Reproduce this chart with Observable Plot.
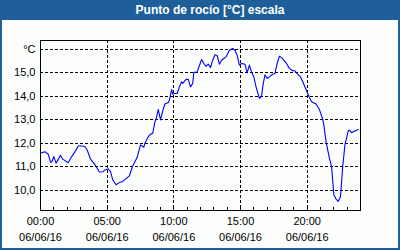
<!DOCTYPE html>
<html>
<head>
<meta charset="utf-8">
<script src="https://cdn.jsdelivr.net/npm/d3@7"></script>
<script src="https://cdn.jsdelivr.net/npm/@observablehq/plot@0.6"></script>
<style>
  html, body { margin: 0; padding: 0; background: #ffffff; }
  #wrap { position: relative; width: 400px; height: 250px; background: #fcfefc; overflow: hidden; }
  #title { position: absolute; left: 0; top: 0; width: 400px; height: 20px; background: #1f5f99;
           color: #ffffff; font: bold 12px "Liberation Sans", Arial, sans-serif; line-height: 20px; }
  #title span { position: absolute; left: 210px; transform: translateX(-50%); white-space: nowrap; }
  #chart { position: absolute; left: 0; top: 20px; }
  #border { position: absolute; left: 0; top: 0; width: 400px; height: 250px; box-sizing: border-box;
            border: 2px solid #1f5f99; pointer-events: none; }
</style>
</head>
<body>
<div id="wrap">
  <div id="title"><span>Punto de rocío [°C] escala</span></div>
  <div id="chart"></div>
  <div id="border"></div>
</div>
<script>
const times = ["00:00","00:20","00:35","00:45","00:50","01:00","01:10","01:30","01:40","02:05",
  "02:20","02:35","02:50","03:10","03:20","03:30","03:45","04:00","04:20","04:25",
  "04:40","04:50","05:05","05:15","05:25","05:40","05:55","06:10","06:25","06:40",
  "06:55","07:15","07:30","07:45","07:50","08:05","08:15","08:25","08:35","08:40",
  "08:50","09:00","09:10","09:20","09:35","09:40","09:50","09:55","10:05","10:15",
  "10:25","10:35","10:40","10:55","11:05","11:15","11:25","11:30","11:45","12:05",
  "12:15","12:25","12:35","12:45","12:55","13:05","13:15","13:25","13:35","13:45",
  "13:55","14:10","14:25","14:35","14:45","14:55","15:05","15:20","15:30","15:40",
  "15:50","16:00","16:10","16:25","16:35","16:40","16:50","17:00","17:10","17:25",
  "17:35","17:45","17:55","18:05","18:25","18:40","18:55","19:05","19:15","19:30",
  "19:40","19:55","20:10","20:20","20:40","20:55","21:10","21:15","21:25","21:40",
  "21:50","22:00","22:10","22:20","22:30","22:40","22:50","23:05","23:10","23:20",
  "23:35","23:40","23:50"];
const dewPoint = [11.57,11.64,11.53,11.19,11.19,11.43,11.15,11.49,11.32,11.17,
  11.43,11.63,11.88,11.88,11.85,11.71,11.32,11.15,10.86,10.77,
  10.78,10.86,10.91,10.79,10.44,10.23,10.32,10.37,10.49,10.61,
  11.03,11.40,11.93,11.83,12.00,12.28,12.39,12.42,12.92,13.02,
  13.44,12.99,13.38,13.67,13.74,13.84,14.29,14.09,14.12,14.12,
  14.40,14.62,14.55,14.72,14.72,14.40,14.55,15.02,15.04,15.57,
  15.40,15.28,15.37,15.23,15.54,15.77,15.74,15.37,15.54,15.61,
  15.68,15.96,16.04,15.96,15.75,15.33,15.40,15.37,15.00,15.33,
  15.03,14.83,14.40,13.91,14.01,14.40,14.92,14.76,14.83,14.94,
  14.97,15.40,15.71,15.65,15.43,15.19,15.09,15.09,14.97,14.83,
  14.62,14.29,13.95,13.77,13.67,13.44,13.02,12.78,12.07,11.36,
  11.00,9.80,9.62,9.52,9.73,11.00,11.93,12.53,12.56,12.45,
  12.53,12.53,12.59];
const yTicks = [10, 11, 12, 13, 14, 15, 16];
const xTicks = [0, 5, 10, 15, 20];
const xTimeLabels = ["00:00", "05:00", "10:00", "15:00", "20:00"];
const dateLabel = "06/06/16";
const unitLabel = "°C";
const hourTicks = d3.range(1, 24);

const toHours = s => { const [h, m] = s.split(":").map(Number); return h + m / 60; };
const data = times.map((t, i) => ({hour: toHours(t), value: dewPoint[i]}));

const chart = Plot.plot({
  width: 400,
  height: 230,
  marginTop: 20,
  marginBottom: 40,
  marginLeft: 40,
  marginRight: 40,
  style: {background: "transparent", fontFamily: "'Liberation Sans', Arial, sans-serif", fontSize: "11px", color: "#000"},
  x: {domain: [0, 24], axis: null},
  y: {domain: [9.13, 16.38], axis: null},
  marks: [
    Plot.gridY(yTicks, {stroke: "#000", strokeOpacity: 1, strokeDasharray: "3,2", shapeRendering: "crispEdges"}),
    Plot.gridX(xTicks, {stroke: "#000", strokeOpacity: 1, strokeDasharray: "3,2", shapeRendering: "crispEdges"}),
    Plot.axisX(hourTicks, {tickSize: 3, dy: -3, tickFormat: () => "", label: null, stroke: "#000", shapeRendering: "crispEdges"}),
    Plot.text(xTicks, {x: d => d, frameAnchor: "bottom", dy: 14, text: (d, i) => xTimeLabels[i], fill: "#000"}),
    Plot.text(xTicks, {x: d => d, frameAnchor: "bottom", dy: 30, text: () => dateLabel, fill: "#000"}),
    Plot.axisY(yTicks, {tickSize: 0, tickPadding: 5, label: null, fill: "#000",
      tickFormat: d => d === 16 ? unitLabel : d.toFixed(1).replace(".", ",")}),
    Plot.line(data, {x: "hour", y: "value", stroke: "#0000ff", strokeWidth: 1.1}),
    Plot.frame({stroke: "#000", shapeRendering: "crispEdges"})
  ]
});
document.getElementById("chart").appendChild(chart);
</script>
</body>
</html>
